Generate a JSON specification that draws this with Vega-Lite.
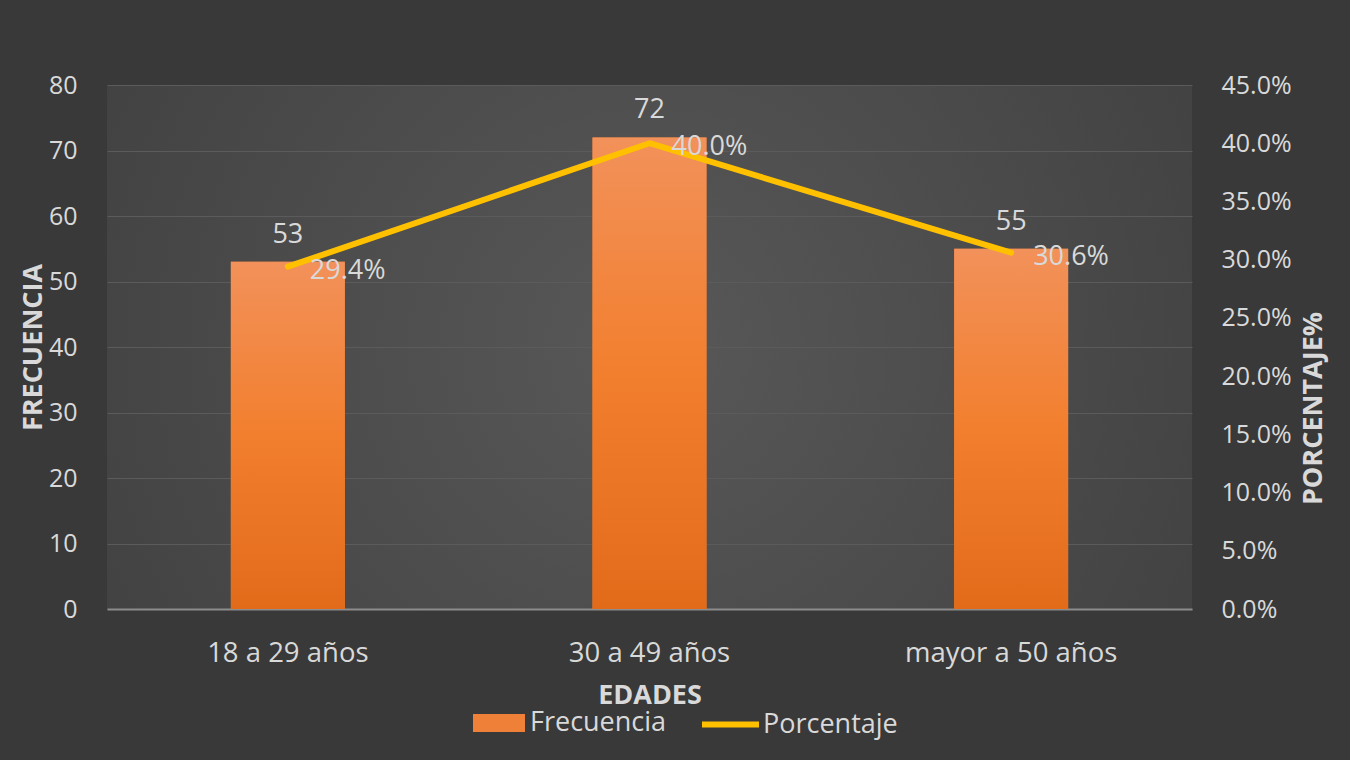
{
  "$schema": "https://vega.github.io/schema/vega-lite/v6.json",
  "width": 1085,
  "height": 524,
  "autosize": {"type": "none"},
  "padding": {"left": 107, "top": 85, "right": 158, "bottom": 151},
  "background": "#393939",
  "config": {
    "font": "Open Sans",
    "view": {
      "stroke": null,
      "fill": {"gradient": "radial", "x1": 0.5, "y1": 0.5, "r1": 0, "x2": 0.5, "y2": 0.5, "r2": 0.8,
        "stops": [{"offset": 0, "color": "#585858"}, {"offset": 1, "color": "#393939"}]}
    },
    "axis": {
      "labelColor": "#d9d9d9", "titleColor": "#d9d9d9", "labelFont": "Open Sans", "titleFont": "Open Sans",
      "labelFontSize": 25, "titleFontSize": 27, "titleFontWeight": "bold", "labelLimit": 400,
      "ticks": false, "domain": false, "grid": false
    },
    "legend": {"labelColor": "#d9d9d9", "labelFont": "Open Sans", "labelFontSize": 27, "padding": 0}
  },
  "data": {
    "values": [
      {"edad": "18 a 29 años", "frecuencia": 53, "porcentaje": 0.294, "etiqueta": "29.4%"},
      {"edad": "30 a 49 años", "frecuencia": 72, "porcentaje": 0.4, "etiqueta": "40.0%"},
      {"edad": "mayor a 50 años", "frecuencia": 55, "porcentaje": 0.306, "etiqueta": "30.6%"}
    ]
  },
  "encoding": {
    "x": {
      "field": "edad", "type": "nominal", "sort": null,
      "scale": {"paddingInner": 0.685, "paddingOuter": 0.3425},
      "axis": {
        "title": "EDADES", "labelAngle": 0, "labelPadding": 30, "labelFontSize": 27.5,
        "domain": true, "domainColor": "#8c8c8c", "domainWidth": 2,
        "titleY": 86, "titleBaseline": "middle"
      }
    }
  },
  "layer": [
    {
      "encoding": {
        "y": {
          "field": "frecuencia", "type": "quantitative",
          "scale": {"domain": [0, 80]},
          "axis": {
            "title": "FRECUENCIA", "values": [0, 10, 20, 30, 40, 50, 60, 70, 80],
            "grid": true, "gridColor": "#5b5b5b", "gridWidth": 1, "labelPadding": 30,
            "titleX": -74, "titleY": 262, "titleBaseline": "middle", "titleAngle": 270
          }
        }
      },
      "layer": [
        {
          "mark": {"type": "bar"},
          "encoding": {
            "fill": {
              "datum": "Frecuencia", "type": "nominal",
              "scale": {"range": ["#ef8038"]},
              "legend": {
                "title": null, "orient": "none", "legendX": 366, "legendY": 612,
                "symbolType": "M-1,-0.35 H1 V0.35 H-1 Z", "symbolSize": 2704,
                "symbolStrokeWidth": 0, "labelOffset": 5,
                "symbolOpacity": 1
              }
            }
          }
        },
        {
          "mark": {"type": "bar", "color": {"gradient": "linear", "x1": 0, "y1": 0, "x2": 0, "y2": 1,
                "stops": [{"offset": 0, "color": "#f2915a"}, {"offset": 0.5, "color": "#f27f2e"}, {"offset": 1, "color": "#e26b1a"}]}}
        },
        {
          "mark": {"type": "text", "baseline": "alphabetic", "dy": -19, "fontSize": 27, "color": "#d9d9d9", "font": "Open Sans"},
          "encoding": {"text": {"field": "frecuencia", "type": "quantitative"}}
        }
      ]
    },
    {
      "encoding": {
        "y": {
          "field": "porcentaje", "type": "quantitative",
          "scale": {"domain": [0, 0.45]},
          "axis": {
            "orient": "right", "title": "PORCENTAJE%", "format": ".1%",
            "values": [0, 0.05, 0.1, 0.15, 0.2, 0.25, 0.3, 0.35, 0.4, 0.45],
            "labelPadding": 29, "titleX": 121, "titleY": 323, "titleBaseline": "middle", "titleAngle": 270
          }
        }
      },
      "layer": [
        {
          "mark": {"type": "line", "strokeWidth": 6, "strokeCap": "round", "strokeJoin": "round"},
          "encoding": {
            "stroke": {
              "datum": "Porcentaje", "type": "nominal",
              "scale": {"range": ["#ffc000"]},
              "legend": {
                "title": null, "orient": "none", "legendX": 592, "legendY": 608,
                "symbolType": "stroke", "symbolSize": 3249, "symbolStrokeWidth": 6, "labelOffset": 1
              }
            }
          }
        },
        {
          "mark": {"type": "text", "align": "left", "baseline": "middle", "dx": 22, "dy": 4, "fontSize": 27, "color": "#d9d9d9", "font": "Open Sans"},
          "encoding": {"text": {"field": "etiqueta", "type": "nominal"}}
        }
      ]
    }
  ],
  "resolve": {"scale": {"y": "independent", "fill": "independent", "stroke": "independent"}}
}
